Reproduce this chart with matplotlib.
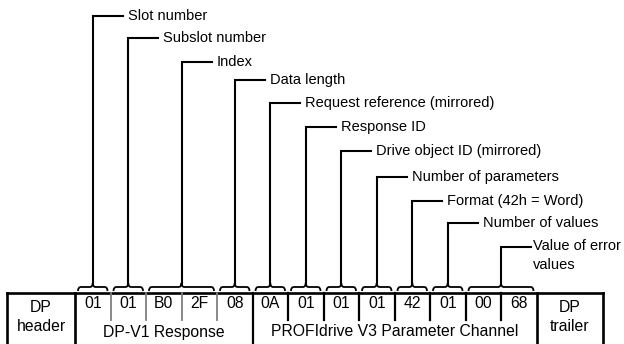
import matplotlib.pyplot as plt
from matplotlib.path import Path
from matplotlib.patches import PathPatch

# Byte values in the response telegram
byte_values = ['01', '01', 'B0', '2F', '08', '0A', '01', '01', '01', '42', '01', '00', '68']

# Field labels, how many bytes each covers, and the height of each label
field_labels = ['Slot number', 'Subslot number', 'Index', 'Data length',
                'Request reference (mirrored)', 'Response ID',
                'Drive object ID (mirrored)', 'Number of parameters',
                'Format (42h = Word)', 'Number of values', 'Value of error\nvalues']
field_bytes = [1, 1, 2, 1, 1, 1, 1, 1, 1, 1, 2]
label_y = [16, 38, 62, 80, 103, 127, 151, 177, 201, 223, 245]

# Groups in the lower row: name and number of bytes
group_names = ['DP-V1 Response', 'PROFIdrive V3 Parameter Channel']
group_bytes = [5, 8]

plt.rcParams['font.family'] = ['Liberation Sans', 'DejaVu Sans']

fig = plt.figure(figsize=(6.24, 3.44), dpi=100)
ax = fig.add_axes([0, 0, 1, 1])
ax.set_xlim(0, 624)
ax.set_ylim(344, 0)
ax.axis('off')

# Table geometry (pixels)
left = 7
header_w = 68
cell_w = 35.5
trailer_w = 66
top = 293
bottom = 346
split = 320
fs_label = 10.5
fs_table = 11.3

x_bytes = left + header_w
x_trailer = x_bytes + cell_w * len(byte_values)
right = x_trailer + trailer_w

# outer frame and the big separators
lw_frame = 1.9
ax.plot([left, right], [top, top], color='black', lw=lw_frame)
for xv in [left, x_bytes, x_trailer, right]:
    ax.plot([xv, xv], [top, bottom], color='black', lw=lw_frame)

# separator between the two groups
x_group = x_bytes + cell_w * group_bytes[0]
ax.plot([x_group, x_group], [top, bottom], color='black', lw=1.6)

# short dividers between bytes
for i in range(1, len(byte_values)):
    if i == group_bytes[0]:
        continue
    xv = x_bytes + cell_w * i
    if i < group_bytes[0]:
        ax.plot([xv, xv], [top, split], color='#7f7f7f', lw=1.3)
    else:
        ax.plot([xv, xv], [top, split], color='black', lw=1.6)

# byte values
for i, val in enumerate(byte_values):
    ax.text(x_bytes + cell_w * (i + 0.5), 304, val, ha='center', va='center', fontsize=fs_table)

# header, trailer and group names
ax.text((left + x_bytes) / 2, 317, 'DP\nheader', ha='center', va='center',
        fontsize=fs_table, linespacing=1.4)
ax.text((x_trailer + right) / 2, 317, 'DP\ntrailer', ha='center', va='center',
        fontsize=fs_table, linespacing=1.4)
ax.text((x_bytes + x_group) / 2, 332, group_names[0], ha='center', va='center', fontsize=fs_table)
ax.text((x_group + x_trailer) / 2, 332, group_names[1], ha='center', va='center', fontsize=fs_table)


def brace(x0, x1):
    # curly brace above a span of cells, tip in the middle
    xm = (x0 + x1) / 2
    yb, yc, yt, r = 291, 287, 283, 3
    verts = [(x0, yb), (x0, yc), (x0 + r, yc),
             (xm - r, yc), (xm, yc), (xm, yt),
             (xm, yc), (xm + r, yc),
             (x1 - r, yc), (x1, yc), (x1, yb)]
    codes = [Path.MOVETO, Path.CURVE3, Path.CURVE3,
             Path.LINETO, Path.CURVE3, Path.CURVE3,
             Path.CURVE3, Path.CURVE3,
             Path.LINETO, Path.CURVE3, Path.CURVE3]
    ax.add_patch(PathPatch(Path(verts, codes), fill=False, lw=1.3, color='black'))
    return xm, yt


# braces, leader lines and labels
start = 0
for label, n, ly in zip(field_labels, field_bytes, label_y):
    x0 = x_bytes + cell_w * start + 3
    x1 = x_bytes + cell_w * (start + n) - 3
    xm, yt = brace(x0, x1)
    if '\n' in label:
        # two line label: line meets the first line of text
        line_y = ly + 2
        ax.plot([xm, xm, xm + 30], [yt, line_y, line_y], color='black', lw=1.5,
                solid_joinstyle='miter')
        ax.text(xm + 32, line_y - 8, label, ha='left', va='top', fontsize=fs_label,
                linespacing=1.45)
    else:
        ax.plot([xm, xm, xm + 30], [yt, ly, ly], color='black', lw=1.5,
                solid_joinstyle='miter')
        ax.text(xm + 35, ly, label, ha='left', va='center', fontsize=fs_label)
    start += n

fig.savefig('out.png', dpi=100)
